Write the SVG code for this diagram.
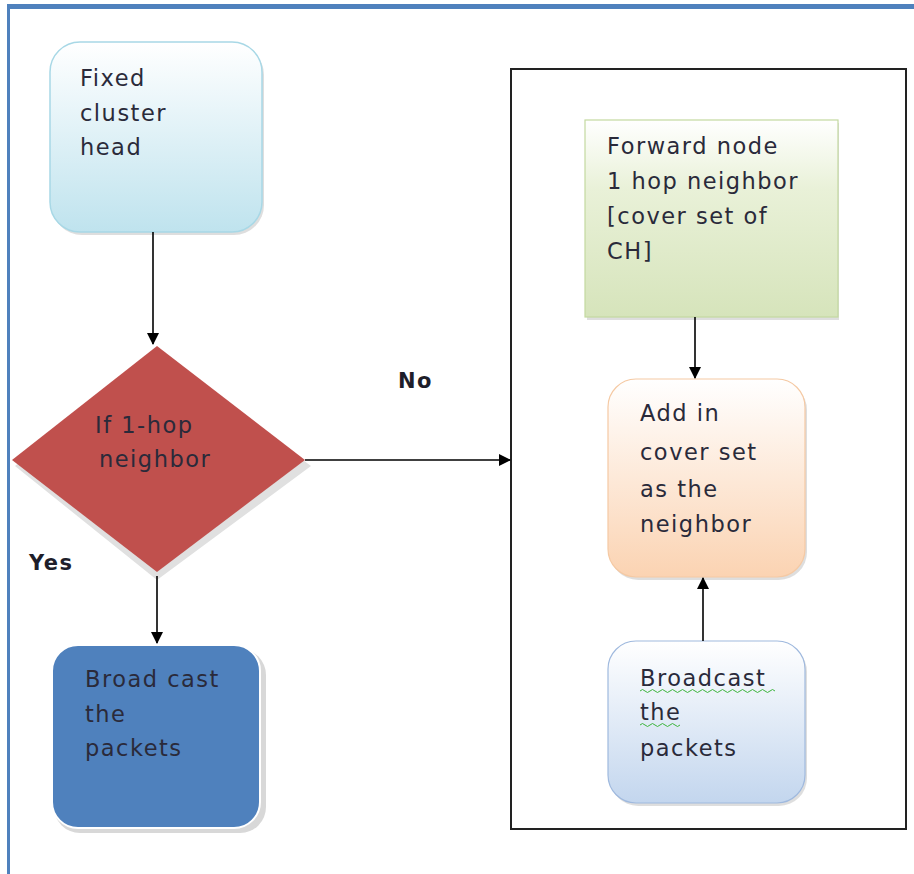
<svg xmlns="http://www.w3.org/2000/svg" width="914" height="874" viewBox="0 0 914 874">
<defs>
<linearGradient id="gCyan" x1="0" y1="0" x2="0" y2="1"><stop offset="0" stop-color="#ffffff"/><stop offset="1" stop-color="#bfe3ee"/></linearGradient>
<linearGradient id="gGreen" x1="0" y1="0" x2="0" y2="1"><stop offset="0" stop-color="#ffffff"/><stop offset="0.35" stop-color="#e9f1d8"/><stop offset="1" stop-color="#d6e4bb"/></linearGradient>
<linearGradient id="gOrange" x1="0" y1="0" x2="0" y2="1"><stop offset="0" stop-color="#ffffff"/><stop offset="1" stop-color="#fbd3b2"/></linearGradient>
<linearGradient id="gBlue" x1="0" y1="0" x2="0" y2="1"><stop offset="0" stop-color="#ffffff"/><stop offset="1" stop-color="#c3d6ee"/></linearGradient>
<marker id="arr" markerWidth="12" markerHeight="12" refX="11" refY="6" orient="auto" markerUnits="userSpaceOnUse"><path d="M0,0 L12,6 L0,12 z" fill="#000"/></marker>
</defs>
<style>
.t{font-family:"DejaVu Sans","Noto Sans",sans-serif;font-size:22.5px;letter-spacing:1.5px;fill:#2a2a3a}
.lbl{font-family:"DejaVu Sans","Noto Sans",sans-serif;font-size:21px;letter-spacing:1.5px;font-weight:bold;fill:#1e1e2a}
.con{stroke:#000;stroke-width:1.6;fill:none}
.shadow{fill:#c8c8c8;opacity:0.6}
</style>
<rect x="0" y="0" width="914" height="874" fill="#fff"/>
<g id="frame">
<rect x="7" y="4" width="907" height="5" fill="#4f81bd"/>
<rect x="7" y="4" width="3" height="870" fill="#4f81bd"/>
</g>
<g id="container">
<rect x="511" y="69" width="395" height="760" fill="none" stroke="#222" stroke-width="2"/>
</g>
<g id="n-fixed">
<rect x="52" y="45" width="212" height="190" rx="30" class="shadow"/>
<rect x="50" y="42" width="212" height="190" rx="30" fill="url(#gCyan)" stroke="#a8d8e6" stroke-width="1.5"/>
<text class="t" x="80" y="86">Fixed</text>
<text class="t" x="80" y="121">cluster</text>
<text class="t" x="80" y="155">head</text>
</g>
<g id="n-decision">
<polygon points="157,352 311,466 157,580 15,466" fill="#e0e0e0"/>
<polygon points="157,346 305,460 157,572 12,460" fill="#c0504d"/>
<text class="t" x="95" y="433">If 1-hop</text>
<text class="t" x="99" y="467">neighbor</text>
</g>
<g id="n-broadcast1">
<rect x="54" y="649" width="212" height="184" rx="26" fill="#d8d8d8"/>
<rect x="52" y="645" width="208" height="183" rx="26" fill="#4f81bd" stroke="#fff" stroke-width="2"/>
<text class="t" x="85" y="687">Broad cast</text>
<text class="t" x="85" y="722">the</text>
<text class="t" x="85" y="756">packets</text>
</g>
<g id="n-forward">
<rect x="587" y="123" width="252" height="197" class="shadow"/>
<rect x="585" y="120" width="253" height="197" fill="url(#gGreen)" stroke="#c4d9a0" stroke-width="1.2"/>
<text class="t" x="607" y="154">Forward node</text>
<text class="t" x="607" y="189">1 hop neighbor</text>
<text class="t" x="607" y="224">[cover set of</text>
<text class="t" x="607" y="259">CH]</text>
</g>
<g id="n-add">
<rect x="610" y="382" width="197" height="198" rx="28" class="shadow"/>
<rect x="608" y="379" width="197" height="198" rx="28" fill="url(#gOrange)" stroke="#f5c9a3" stroke-width="1.2"/>
<text class="t" x="640" y="421">Add in</text>
<text class="t" x="640" y="460">cover set</text>
<text class="t" x="640" y="497">as the</text>
<text class="t" x="640" y="532">neighbor</text>
</g>
<g id="n-broadcast2">
<rect x="610" y="644" width="197" height="162" rx="28" class="shadow"/>
<rect x="608" y="641" width="197" height="162" rx="28" fill="url(#gBlue)" stroke="#9fb9de" stroke-width="1.2"/>
<text class="t" x="640" y="686">Broadcast</text>
<text class="t" x="640" y="720">the</text>
<text class="t" x="640" y="756">packets</text>
<path d="M640,691 q2.5,-3 5,0 t5,0 t5,0 t5,0 t5,0 t5,0 t5,0 t5,0 t5,0 t5,0 t5,0 t5,0 t5,0 t5,0 t5,0 t5,0 t5,0 t5,0 t5,0 t5,0 t5,0 t5,0 t5,0 t5,0 t5,0 t5,0 t5,0" fill="none" stroke="#3cb43c" stroke-width="1"/>
<path d="M640,725 q2.5,-3 5,0 t5,0 t5,0 t5,0 t5,0 t5,0 t5,0 t5,0" fill="none" stroke="#3cb43c" stroke-width="1"/>
</g>
<g id="labels">
<text class="lbl" x="398" y="388">No</text>
<text class="lbl" x="29" y="570">Yes</text>
</g>
<g id="connectors">
<line class="con" x1="153" y1="232" x2="153" y2="344" marker-end="url(#arr)"/>
<line class="con" x1="157" y1="576" x2="157" y2="643" marker-end="url(#arr)"/>
<line class="con" x1="305" y1="460" x2="510" y2="460" marker-end="url(#arr)"/>
<line class="con" x1="695" y1="317" x2="695" y2="378" marker-end="url(#arr)"/>
<line class="con" x1="703" y1="641" x2="703" y2="578" marker-end="url(#arr)"/>
</g>
</svg>
